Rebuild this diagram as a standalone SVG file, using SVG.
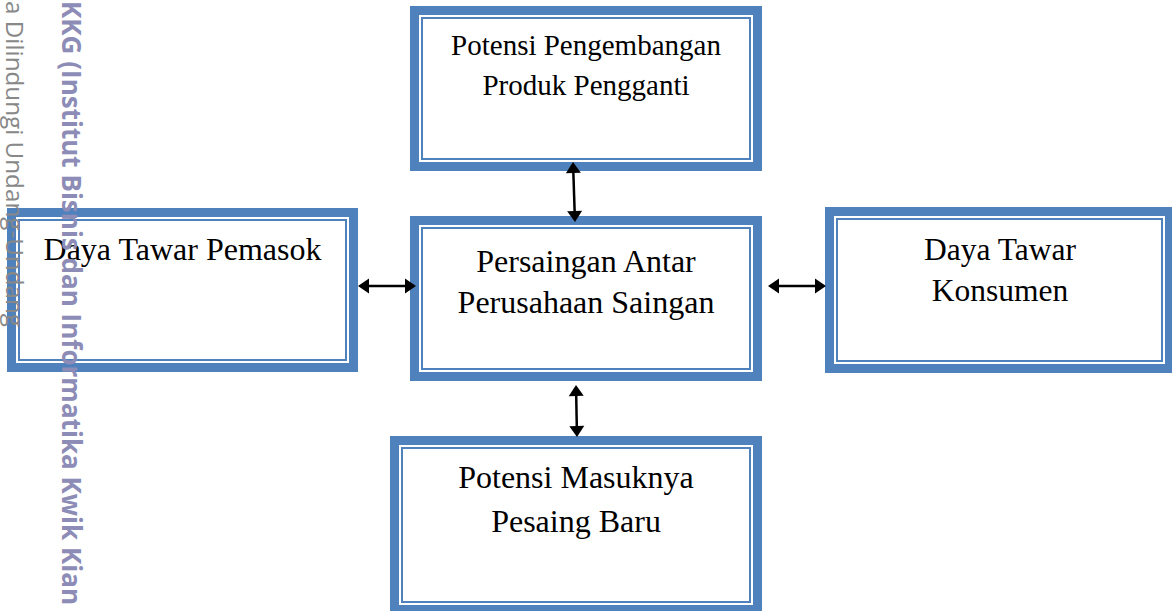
<svg xmlns="http://www.w3.org/2000/svg" width="1172" height="611" viewBox="0 0 1172 611">
  <style>
    .thick { fill: none; stroke: #4f81bd; stroke-width: 9; }
    .thin { fill: none; stroke: #4f81bd; stroke-width: 2; }
    .lbl { font-family: "Liberation Serif", "Times New Roman", serif; font-size: 32px; fill: #000; text-anchor: middle; }
    .conn { stroke: #000; stroke-width: 2.5; fill: none; marker-start: url(#ah); marker-end: url(#ah); }
    .wm { font-family: "Open Sans", "DejaVu Sans", sans-serif; font-weight: bold; font-size: 26px; fill: #8c8cb6; }
    .wm2 { font-family: "Open Sans", "DejaVu Sans", sans-serif; font-size: 23px; fill: #888888; }
  </style>
  <defs>
    <marker id="ah" markerUnits="userSpaceOnUse" markerWidth="14" markerHeight="18" refX="1" refY="7.5" orient="auto-start-reverse" overflow="visible">
      <path d="M0,0 L11,7.5 L0,15 Z" fill="#000"/>
    </marker>
  </defs>
  <rect width="1172" height="611" fill="#ffffff"/>

  <g id="node-substitute">
    <rect class="thick" x="414.5" y="10.5" width="343" height="156"/>
    <rect class="thin" x="422" y="18" width="328" height="141"/>
    <text class="lbl" style="font-size:29px" x="586" y="55">Potensi Pengembangan</text>
    <text class="lbl" style="font-size:29px" x="586" y="95">Produk Pengganti</text>
  </g>

  <g id="node-rivalry">
    <rect class="thick" x="414.5" y="220.5" width="343" height="156"/>
    <rect class="thin" x="422" y="228" width="328" height="141"/>
    <text class="lbl" x="586" y="272">Persaingan Antar</text>
    <text class="lbl" x="586" y="313">Perusahaan Saingan</text>
  </g>

  <g id="node-supplier">
    <rect class="thick" x="11.5" y="212.5" width="342" height="155"/>
    <rect class="thin" x="19" y="220" width="327" height="140"/>
    <text class="lbl" x="182.5" y="260">Daya Tawar Pemasok</text>
  </g>

  <g id="node-buyer">
    <rect class="thick" x="829.5" y="211.5" width="340" height="157"/>
    <rect class="thin" x="837" y="219" width="325" height="142"/>
    <text class="lbl" style="font-size:31.5px" x="1000" y="260">Daya Tawar</text>
    <text class="lbl" style="font-size:31.5px" x="1000" y="301">Konsumen</text>
  </g>

  <g id="node-entrants">
    <rect class="thick" x="394.5" y="440.5" width="363" height="169"/>
    <rect class="thin" x="402" y="448" width="348" height="154"/>
    <text class="lbl" x="576" y="488">Potensi Masuknya</text>
    <text class="lbl" x="576" y="532">Pesaing Baru</text>
  </g>

  <g id="connectors">
    <line class="conn" x1="573.33" y1="172" x2="574.67" y2="212"/>
    <line class="conn" x1="576.19" y1="395" x2="576.81" y2="427"/>
    <line class="conn" x1="368" y1="286" x2="406" y2="286"/>
    <line class="conn" x1="778" y1="286" x2="816" y2="286"/>
  </g>

  <g id="watermark">
    <text class="wm2" transform="translate(6,0) rotate(90)" x="1" y="0" textLength="326" lengthAdjust="spacingAndGlyphs">a Dilindungi Undang-Undang</text>
    <text class="wm" transform="translate(62,0) rotate(90)" x="1" y="0" textLength="604" lengthAdjust="spacingAndGlyphs">KKG (Institut Bisnis dan Informatika Kwik Kian</text>
  </g>
</svg>
